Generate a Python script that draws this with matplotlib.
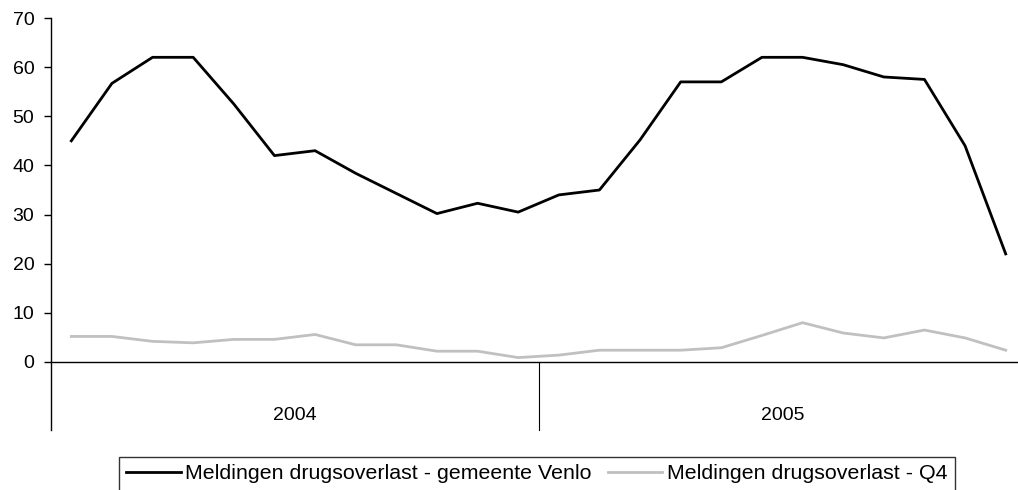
import matplotlib.pyplot as plt

# Monthly reports, Jan 2004 - Dec 2005
years = ['2004', '2005']
venlo = [45, 56.7, 62, 62, 52.5, 42, 43, 38.4, 34.3, 30.2, 32.3, 30.5,
         34, 35, 45.2, 57, 57, 62, 62, 60.5, 58, 57.5, 44, 22]
q4 = [5.2, 5.2, 4.2, 3.9, 4.6, 4.6, 5.6, 3.5, 3.5, 2.2, 2.2, 0.9,
      1.4, 2.4, 2.4, 2.4, 2.9, 5.4, 8.0, 5.9, 4.9, 6.5, 4.9, 2.4]
yticks = [0, 10, 20, 30, 40, 50, 60, 70]

plt.rcParams['font.family'] = ['Liberation Sans', 'DejaVu Sans']

W, H = 1018, 490
fig = plt.figure(figsize=(W / 100, H / 100), dpi=100)
# plot area runs slightly past the right edge, as in the original
ax = fig.add_axes([51 / W, (H - 362) / H, 975 / W, 344 / H])

x = list(range(len(venlo)))
ax.plot(x, venlo, color='black', lw=2, label='Meldingen drugsoverlast - gemeente Venlo')
ax.plot(x, q4, color='#c0c0c0', lw=2, label='Meldingen drugsoverlast - Q4')

ax.set_xlim(-0.5, len(venlo) - 0.5)
ax.set_ylim(0, 70)
ax.set_yticks(yticks)
ax.tick_params(axis='y', direction='out', length=5, width=1, labelsize=14, pad=7)
ax.set_xticks([])
for s in ['top', 'right']:
    ax.spines[s].set_visible(False)
ax.spines['left'].set_bounds(-13.8, 70)
ax.spines['left'].set_linewidth(1)
ax.spines['bottom'].set_linewidth(1)

# year groups below the axis
for i, yr in enumerate(years):
    ax.plot([11.5 + 12 * i, 11.5 + 12 * i], [0, -13.8], color='black', lw=0.8, clip_on=False)
    ax.text(5.5 + 12 * i, -10.9, yr, ha='center', va='center', fontsize=14)

fig.legend(loc='upper left', bbox_to_anchor=(119 / W, 1 - 457 / H), ncol=2,
           frameon=True, fancybox=False, edgecolor='black', fontsize=15.4,
           handlelength=2.55, handletextpad=0.2, columnspacing=0.75,
           borderpad=0.35, borderaxespad=0)

fig.savefig('out.png', dpi=100)
